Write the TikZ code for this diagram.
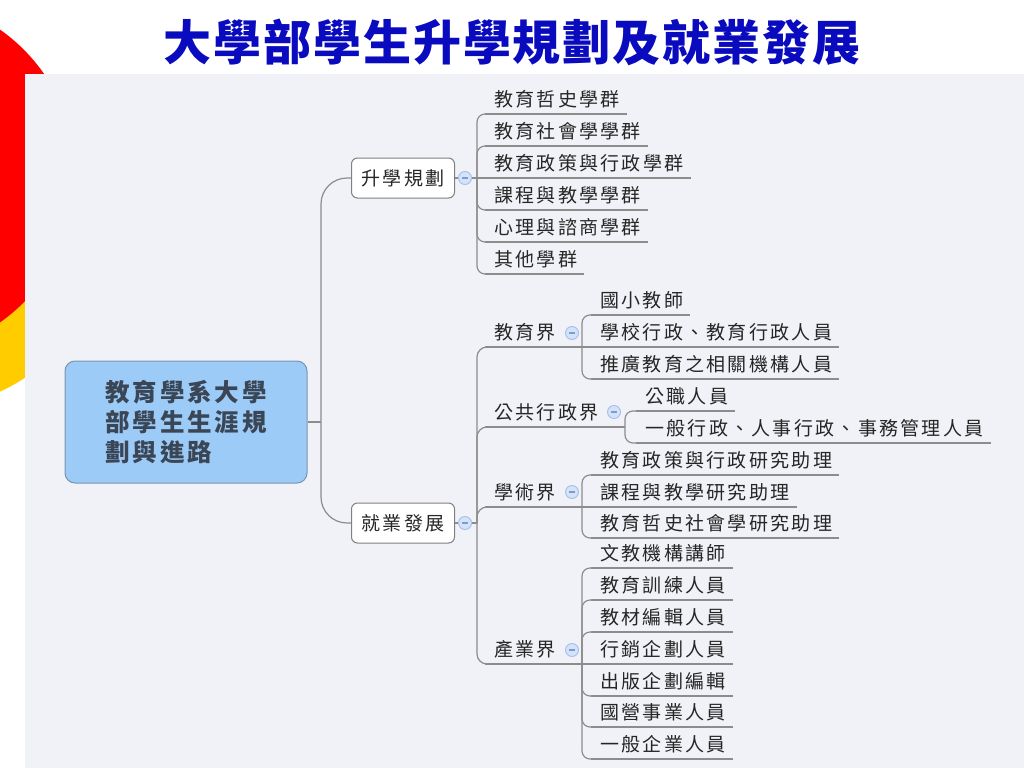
\documentclass[tikz,border=0pt]{standalone}
\usepackage{fontspec}
\usetikzlibrary{calc}
\newfontfamily\cjk[LetterSpace=12]{Noto Sans CJK TC}
\newfontfamily\cjkroot[LetterSpace=12]{Noto Sans CJK TC}
\newfontfamily\cjktitle[LetterSpace=4]{Noto Sans CJK TC}
\definecolor{panel}{HTML}{F1F2F7}
\definecolor{redc}{HTML}{FF0000}
\definecolor{yelc}{HTML}{FFCC00}
\definecolor{titleblue}{HTML}{0A0ABE}
\definecolor{linegray}{HTML}{8C8C8C}
\definecolor{boxedge}{HTML}{808080}
\definecolor{rootfill}{HTML}{9DCBF7}
\definecolor{rootedge}{HTML}{7A93AE}
\definecolor{roottext}{HTML}{3A4656}
\definecolor{txt}{HTML}{262626}
\definecolor{cfill}{HTML}{D4E3F8}
\definecolor{cedge}{HTML}{A9C2EA}
\definecolor{cminus}{HTML}{7D9BD3}
\begin{document}
\begin{tikzpicture}[x=1pt,y=-1pt,
  conn/.style={draw=linegray, line width=1.2pt},
  topic/.style={draw=boxedge, fill=white, rounded corners=6pt, minimum width=103pt, minimum height=40pt, line width=1pt, inner sep=0pt, font=\cjk\fontsize{19}{22}\selectfont, text=txt},
  leaf/.style={anchor=south west, inner sep=0pt, text height=16pt, text depth=7.5pt, font=\cjk\fontsize{19}{22}\selectfont, text=txt, execute at begin node={\hspace*{9pt}}, execute at end node={\hspace*{7pt}}},
  ul/.style={leaf, append after command={(\tikzlastnode.south west) edge[conn] (\tikzlastnode.south east)}},
  root/.style={draw=rootedge, fill=rootfill, rounded corners=10pt, minimum width=242pt, minimum height=122pt, align=left, inner sep=0pt, line width=1pt, font=\cjkroot\bfseries\fontsize{24.5}{30}\selectfont, text=roottext},
  coll/.style={circle, minimum size=13pt, inner sep=0pt, fill=cfill, draw=cedge, line width=1pt, path picture={\draw[cminus, line width=1.1pt] ([xshift=-3pt]path picture bounding box.center) -- ([xshift=3pt]path picture bounding box.center);}}
]
\useasboundingbox (0,0) rectangle (1024,768);
\fill[white] (0,0) rectangle (1024,768);
\begin{scope}
  \clip (0,0) rectangle (1024,768);
  \fill[yelc] (-75,228) circle[radius=180pt];
  \fill[redc] (-103,176) circle[radius=179pt];
\end{scope}
\fill[panel] (25,74) rectangle (1024,768);

\node[text=titleblue, font=\cjktitle\bfseries\fontsize{48}{50}\selectfont] (title) at (512,42) {大學部學生升學規劃及就業發展};

% root and main topics
\node[root] (root) at (186,422) {教育學系大學\\部學生生涯規\\劃與進路};
\node[topic] (up) at (403,178) {升學規劃};
\node[topic] (dn) at (403,523) {就業發展};
\coordinate (rj) at (321,422);
\coordinate (uj) at (477,178);
\coordinate (dj) at (477,523);
\draw[conn] (root.east) -- (rj);
\draw[conn, rounded corners=26pt] (rj) -- (rj |- up.west) -- (up.west);
\draw[conn, rounded corners=26pt] (rj) -- (rj |- dn.west) -- (dn.west);

% upper children
\node[ul] (u1) at (485,114) {教育哲史學群};
\node[ul] (u2) at (485,146) {教育社會學學群};
\node[ul] (u3) at (485,178) {教育政策與行政學群};
\node[ul] (u4) at (485,210) {課程與教學學群};
\node[ul] (u5) at (485,242) {心理與諮商學群};
\node[ul] (u6) at (485,274) {其他學群};
\draw[conn] (up.east) -- (uj) -- (u3.south west);
\foreach \n in {u1,u2,u4,u5,u6}
  \draw[conn, rounded corners=8pt] (uj) -- (uj |- \n.south west) -- (\n.south west);
\node[coll] (upc) at (465,178) {};

% lower children
\node[leaf] (d1) at (485,347) {教育界};
\node[leaf] (d2) at (485,427) {公共行政界};
\node[leaf] (d3) at (485,507) {學術界};
\node[leaf] (d4) at (485,664) {產業界};
\draw[conn] (dn.east) -- (dj);
\foreach \n in {d1,d2,d3,d4}
  \draw[conn, rounded corners=10pt] (dj) -- (dj |- \n.south west) -- (\n.south west);
\node[coll] (dnc) at (465,523) {};

% 教育界
\coordinate (d1j) at (582,347);
\node[ul] (d11) at (591,315) {國小教師};
\node[ul] (d12) at (591,347) {學校行政、教育行政人員};
\node[ul] (d13) at (591,379) {推廣教育之相關機構人員};
\draw[conn] (d1.south west) -- (d1j) -- (d12.south west);
\foreach \n in {d11,d13}
  \draw[conn, rounded corners=8pt] (d1j) -- (d1j |- \n.south west) -- (\n.south west);
\node[coll] (d1c) at (572,333) {};

% 公共行政界
\coordinate (d2j) at (625,427);
\node[ul] (d21) at (636,411) {公職人員};
\node[ul] (d22) at (636,443) {一般行政、人事行政、事務管理人員};
\draw[conn] (d2.south west) -- (d2j);
\foreach \n in {d21,d22}
  \draw[conn, rounded corners=8pt] (d2j) -- (d2j |- \n.south west) -- (\n.south west);
\node[coll] (d2c) at (614,412) {};

% 學術界
\coordinate (d3j) at (582,507);
\node[ul] (d31) at (591,475) {教育政策與行政研究助理};
\node[ul] (d32) at (591,507) {課程與教學研究助理};
\node[ul] (d33) at (591,538) {教育哲史社會學研究助理};
\draw[conn] (d3.south west) -- (d3j) -- (d32.south west);
\foreach \n in {d31,d33}
  \draw[conn, rounded corners=8pt] (d3j) -- (d3j |- \n.south west) -- (\n.south west);
\node[coll] (d3c) at (572,492) {};

% 產業界
\coordinate (d4j) at (582,664);
\node[ul] (d41) at (591,568) {文教機構講師};
\node[ul] (d42) at (591,600) {教育訓練人員};
\node[ul] (d43) at (591,632) {教材編輯人員};
\node[ul] (d44) at (591,664) {行銷企劃人員};
\node[ul] (d45) at (591,696) {出版企劃編輯};
\node[ul] (d46) at (591,727) {國營事業人員};
\node[ul] (d47) at (591,759) {一般企業人員};
\draw[conn] (d4.south west) -- (d4j) -- (d44.south west);
\foreach \n in {d41,d42,d43,d45,d46,d47}
  \draw[conn, rounded corners=8pt] (d4j) -- (d4j |- \n.south west) -- (\n.south west);
\node[coll] (d4c) at (572,650) {};
\end{tikzpicture}
\end{document}
